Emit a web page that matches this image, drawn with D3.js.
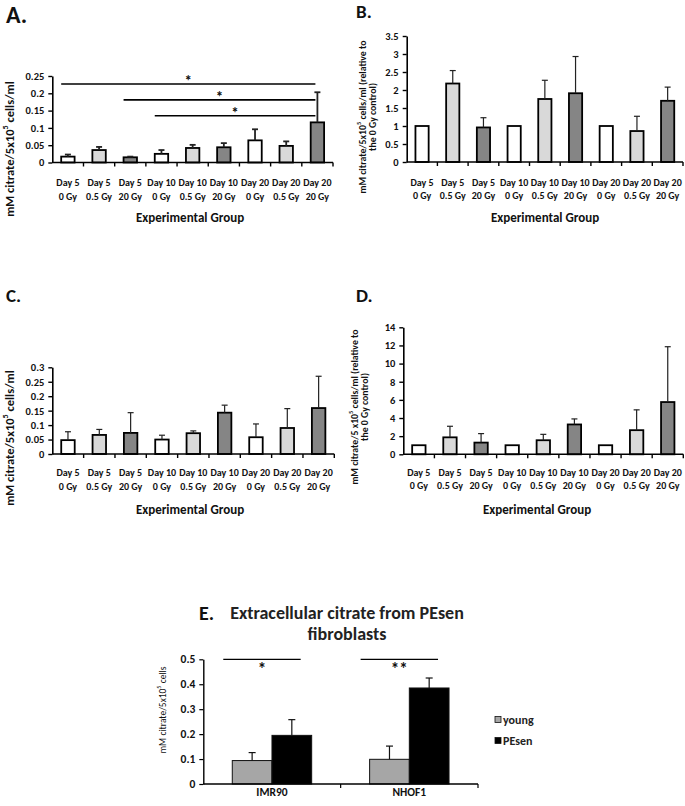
<!DOCTYPE html>
<html><head><meta charset="utf-8">
<script src="https://cdn.jsdelivr.net/npm/d3@7"></script>
<style>
html,body{margin:0;padding:0;background:#fff;}
svg{display:block;font-family:Carlito,Lato,"Open Sans",sans-serif;}
</style></head>
<body>
<svg id="chart" width="685" height="806"></svg>
<script>
// ---------- DATA ----------
const groupDay  = ["Day 5","Day 5","Day 5","Day 10","Day 10","Day 10","Day 20","Day 20","Day 20"];
const groupDose = ["0 Gy","0.5 Gy","20 Gy","0 Gy","0.5 Gy","20 Gy","0 Gy","0.5 Gy","20 Gy"];

const aMean = [0.017,0.036,0.015,0.025,0.042,0.044,0.064,0.048,0.116];
const aErr  = [0.006,0.009,0.002,0.011,0.009,0.012,0.032,0.013,0.087];
const aTicks = [0,0.05,0.1,0.15,0.2,0.25];
const aTickLabels = ["0","0.05","0.1","0.15","0.2","0.25"];
const aSigFrom = [0,2,3];
const aSigTo   = [8,8,8];
const aSigLevel = [0.227,0.181,0.135];
const aSigMark = ["*","*","*"];

const bMean = [1,2.18,0.96,1,1.75,1.91,1,0.86,1.70];
const bErr  = [0,0.36,0.27,0,0.52,1.02,0,0.41,0.38];
const bTicks = [0,0.5,1,1.5,2,2.5,3,3.5];
const bTickLabels = ["0","0.5","1","1.5","2","2.5","3","3.5"];

const cMean = [0.048,0.066,0.073,0.050,0.072,0.143,0.058,0.090,0.159];
const cErr  = [0.029,0.019,0.070,0.015,0.008,0.026,0.046,0.067,0.110];
const cTicks = [0,0.05,0.1,0.15,0.2,0.25,0.3];
const cTickLabels = ["0","0.05","0.1","0.15","0.2","0.25","0.3"];

const dMean = [1,1.87,1.29,1,1.55,3.29,1,2.66,5.76];
const dErr  = [0,1.22,0.99,0,0.65,0.61,0,2.24,6.10];
const dTicks = [0,2,4,6,8,10,12,14];
const dTickLabels = ["0","2","4","6","8","10","12","14"];

const eCells = ["IMR90","NHOF1"];
const eSeries = ["young","PEsen"];
const eYoung = [0.094,0.099];
const eYoungErr = [0.032,0.053];
const ePEsen = [0.195,0.385];
const ePEsenErr = [0.063,0.040];
const eTicks = [0,0.1,0.2,0.3,0.4,0.5];
const eTickLabels = ["0","0.1","0.2","0.3","0.4","0.5"];
const eSigLevel = [0.5,0.5];
const eSigMark = ["*","**"];

// ---------- STYLE ----------
const doseFill = {"0 Gy":"#ffffff","0.5 Gy":"#d9d9d9","20 Gy":"#858585"};
const FONT = "Carlito,Lato,'Open Sans',sans-serif";
const svg = d3.select("#chart");

function supLabel(sel, parts) {
  sel.append("tspan").text(parts[0]);
  sel.append("tspan").attr("dy",-4).attr("font-size","0.65em").text(parts[1]);
  sel.append("tspan").attr("dy",4).text(parts[2]);
}

function panel(o) {
  const g = svg.append("g");
  const n = groupDay.length;
  const x = d3.scaleBand().domain(d3.range(n)).range([o.x0, o.x1]).padding(0);
  const y = d3.scaleLinear().domain([0, o.ymax]).range([o.y0, o.yTop]);
  const bw = x.bandwidth()*0.43;
  const cx = i => x(i) + x.bandwidth()/2;

  const ya = g.append("g").attr("transform",`translate(${o.x0},0)`)
    .call(d3.axisLeft(y).tickValues(o.ticks).tickSize(4).tickSizeOuter(0)
      .tickFormat((d,i)=>o.tickLabels[i]));
  ya.select(".domain").attr("stroke","#000").attr("stroke-width",1.6);
  ya.selectAll(".tick line").attr("stroke","#000").attr("stroke-width",1.4);
  ya.selectAll(".tick text").attr("x",-8).attr("font-size",10.5).attr("font-weight","bold")
    .attr("fill","#111").attr("font-family",FONT);

  g.selectAll("rect.bar").data(o.mean).join("rect")
    .attr("x",(d,i)=>cx(i)-bw/2).attr("y",d=>y(d))
    .attr("width",bw).attr("height",d=>y(0)-y(d))
    .attr("fill",(d,i)=>doseFill[groupDose[i]])
    .attr("stroke","#000").attr("stroke-width",1.8);

  const eg = g.selectAll("g.err").data(o.mean.map((m,i)=>({m,e:o.err[i],i})).filter(d=>d.e>0)).join("g");
  eg.append("line").attr("x1",d=>cx(d.i)).attr("x2",d=>cx(d.i))
    .attr("y1",d=>y(d.m)).attr("y2",d=>y(d.m+d.e)).attr("stroke","#222").attr("stroke-width",o.errW);
  eg.append("line").attr("x1",d=>cx(d.i)-3).attr("x2",d=>cx(d.i)+3)
    .attr("y1",d=>y(d.m+d.e)).attr("y2",d=>y(d.m+d.e)).attr("stroke","#222").attr("stroke-width",o.errW);

  g.append("line").attr("x1",o.x0).attr("x2",o.x1).attr("y1",y(0)).attr("y2",y(0))
    .attr("stroke","#000").attr("stroke-width",1.6);
  g.selectAll("line.xt").data(d3.range(1,n+1)).join("line")
    .attr("x1",i=>o.x0+i*x.step()).attr("x2",i=>o.x0+i*x.step())
    .attr("y1",y(0)).attr("y2",y(0)+4).attr("stroke","#000").attr("stroke-width",1.4);

  const tl = g.selectAll("text.xl").data(d3.range(n)).join("text")
    .attr("text-anchor","middle").attr("font-size",10).attr("font-weight","bold").attr("fill","#111");
  tl.append("tspan").attr("x",cx).attr("y",o.lab1).text(i=>groupDay[i]);
  tl.append("tspan").attr("x",cx).attr("y",o.lab2).text(i=>groupDose[i]);

  g.append("text").attr("x",o.xtX).attr("y",o.xtY).attr("text-anchor","middle")
    .attr("font-size",13).attr("font-weight","bold").attr("fill","#111").text("Experimental Group");

  o.ytitle.forEach((parts,k)=>{
    const t = g.append("text").attr("transform",`translate(${o.ytX[k]},${o.ytY}) rotate(-90)`)
      .attr("text-anchor","middle").attr("dominant-baseline","central")
      .attr("font-size",o.ytSize).attr("font-weight","bold").attr("fill","#111");
    if (parts.length===3) supLabel(t, parts); else t.text(parts[0]);
  });

  g.append("text").attr("x",o.letX).attr("y",o.letY).attr("font-size",o.letSize)
    .attr("font-weight","bold").attr("fill","#111").text(o.letter);

  if (o.sigFrom) {
    o.sigFrom.forEach((f,k)=>{
      const xa = x(f)+x.bandwidth()/2-bw/2, xb = cx(o.sigTo[k])-2;
      const yy = y(o.sigLevel[k]);
      g.append("line").attr("x1",xa).attr("x2",xb).attr("y1",yy).attr("y2",yy)
        .attr("stroke","#000").attr("stroke-width",1.6);
      g.append("text").attr("x",(xa+xb)/2).attr("y",yy+2).attr("text-anchor","middle")
        .attr("font-size",15).attr("font-weight","bold").attr("fill","#111").text(o.sigMark[k]);
    });
  }
}

panel({letter:"A.",letX:6,letY:23,letSize:24,x0:52.3,x1:333,y0:162.5,yTop:76,ymax:0.25,
  mean:aMean,err:aErr,ticks:aTicks,tickLabels:aTickLabels,errW:1.8,
  lab1:186,lab2:199.5,xtX:190,xtY:222,
  ytitle:[["mM citrate/5x10","5"," cells/ml"]],ytX:[9],ytY:149,ytSize:12.5,
  sigFrom:aSigFrom,sigTo:aSigTo,sigLevel:aSigLevel,sigMark:aSigMark});

panel({letter:"B.",letX:356,letY:18,letSize:19,x0:406.7,x1:683,y0:162,yTop:36,ymax:3.5,
  mean:bMean,err:bErr,ticks:bTicks,tickLabels:bTickLabels,errW:1.2,
  lab1:186,lab2:199,xtX:545,xtY:222,
  ytitle:[["mM citrate/5x10","5"," cells/ml (relative to"],["the 0 Gy control)"]],ytX:[363,373],ytY:117,ytSize:9.8});

panel({letter:"C.",letX:6,letY:302,letSize:19,x0:52.3,x1:334.3,y0:454,yTop:367.3,ymax:0.3,
  mean:cMean,err:cErr,ticks:cTicks,tickLabels:cTickLabels,errW:1.2,
  lab1:476,lab2:489.5,xtX:190,xtY:514,
  ytitle:[["mM citrate/5x10","5"," cells/ml"]],ytX:[9],ytY:438,ytSize:12.5});

panel({letter:"D.",letX:356,letY:302,letSize:19,x0:403.3,x1:683.3,y0:454.3,yTop:327.3,ymax:14,
  mean:dMean,err:dErr,ticks:dTicks,tickLabels:dTickLabels,errW:1.2,
  lab1:476,lab2:489,xtX:537,xtY:514,
  ytitle:[["mM citrate/5 x10","5"," cells/ml (relative to"],["the 0 Gy control)"]],ytX:[355,365],ytY:407,ytSize:9.8});

// ---------- PANEL E ----------
(function(){
  const g = svg.append("g");
  const x0=203.3, x1=478, y0=784, yTop=659.3;
  const x = d3.scaleBand().domain(eCells).range([x0,x1]).padding(0);
  const xs = d3.scaleBand().domain(eSeries).range([0,x.bandwidth()]).paddingOuter(0.73).paddingInner(0);
  const y = d3.scaleLinear().domain([0,0.5]).range([y0,yTop]);
  const fills = {"young":"#a6a6a6","PEsen":"#000000"};
  const vals = {"young":eYoung,"PEsen":ePEsen};
  const errs = {"young":eYoungErr,"PEsen":ePEsenErr};

  const ya = g.append("g").attr("transform",`translate(${x0},0)`)
    .call(d3.axisLeft(y).tickValues(eTicks).tickSize(4).tickSizeOuter(0).tickFormat((d,i)=>eTickLabels[i]));
  ya.select(".domain").attr("stroke","#000").attr("stroke-width",1.4);
  ya.selectAll(".tick line").attr("stroke","#000").attr("stroke-width",1.2);
  ya.selectAll(".tick text").attr("x",-8).attr("font-size",11.5).attr("font-weight","bold")
    .attr("fill","#111").attr("font-family",FONT);

  const items = [];
  eCells.forEach((c,i)=>eSeries.forEach(s=>items.push({c,s,v:vals[s][i],e:errs[s][i]})));
  g.selectAll("rect.eb").data(items).join("rect")
    .attr("x",d=>x(d.c)+xs(d.s)).attr("y",d=>y(d.v))
    .attr("width",xs.bandwidth()).attr("height",d=>y(0)-y(d.v))
    .attr("fill",d=>fills[d.s]).attr("stroke","#111").attr("stroke-width",1);
  const ecx = d=>x(d.c)+xs(d.s)+xs.bandwidth()/2;
  g.selectAll("line.ev").data(items).join("line")
    .attr("x1",ecx).attr("x2",ecx).attr("y1",d=>y(d.v)).attr("y2",d=>y(d.v+d.e))
    .attr("stroke","#111").attr("stroke-width",1.2);
  g.selectAll("line.ec").data(items).join("line")
    .attr("x1",d=>ecx(d)-3.5).attr("x2",d=>ecx(d)+3.5).attr("y1",d=>y(d.v+d.e)).attr("y2",d=>y(d.v+d.e))
    .attr("stroke","#111").attr("stroke-width",1.2);

  g.append("line").attr("x1",x0).attr("x2",x1).attr("y1",y0).attr("y2",y0).attr("stroke","#000").attr("stroke-width",1.4);
  g.selectAll("line.xt").data([1,2]).join("line")
    .attr("x1",i=>x0+i*x.step()).attr("x2",i=>x0+i*x.step()).attr("y1",y0).attr("y2",y0+4)
    .attr("stroke","#000").attr("stroke-width",1.2);
  g.selectAll("text.xl").data(eCells).join("text")
    .attr("x",d=>x(d)+x.bandwidth()/2).attr("y",796).attr("text-anchor","middle")
    .attr("font-size",11.5).attr("font-weight","bold").attr("fill","#111").text(d=>d);

  eCells.forEach((c,i)=>{
    const xa = x(c)+xs("young")-9, xb = x(c)+xs("PEsen")+xs.bandwidth()-11;
    const yy = y(eSigLevel[i]);
    g.append("line").attr("x1",xa).attr("x2",xb).attr("y1",yy).attr("y2",yy).attr("stroke","#000").attr("stroke-width",1.2);
    g.append("text").attr("x",(xa+xb)/2).attr("y",yy+16).attr("text-anchor","middle")
      .attr("font-size",17).attr("font-weight","bold").attr("fill","#111").text(eSigMark[i]);
  });

  g.append("text").attr("x",347).attr("y",619).attr("text-anchor","middle")
    .attr("font-size",18).attr("font-weight","bold").attr("fill","#222").text("Extracellular citrate from PEsen");
  g.append("text").attr("x",347).attr("y",640).attr("text-anchor","middle")
    .attr("font-size",18).attr("font-weight","bold").attr("fill","#222").text("fibroblasts");
  g.append("text").attr("x",199).attr("y",620).attr("font-size",20).attr("font-weight","bold").attr("fill","#111").text("E.");

  const yt = g.append("text").attr("transform","translate(163,710) rotate(-90)")
    .attr("text-anchor","middle").attr("dominant-baseline","central")
    .attr("font-family",FONT).attr("font-size",9.5).attr("fill","#111");
  supLabel(yt,["mM citrate/5x10","5"," cells"]);

  const lg = g.selectAll("g.lg").data(eSeries).join("g")
    .attr("transform",(d,i)=>`translate(495,${716.5+i*21})`);
  lg.append("rect").attr("width",6).attr("height",6).attr("fill",d=>fills[d]).attr("stroke","#111").attr("stroke-width",0.8);
  lg.append("text").attr("x",8).attr("y",3).attr("dominant-baseline","central")
    .attr("font-size",12).attr("font-weight","bold").attr("fill","#222").text(d=>d);
})();
</script>
</body></html>
